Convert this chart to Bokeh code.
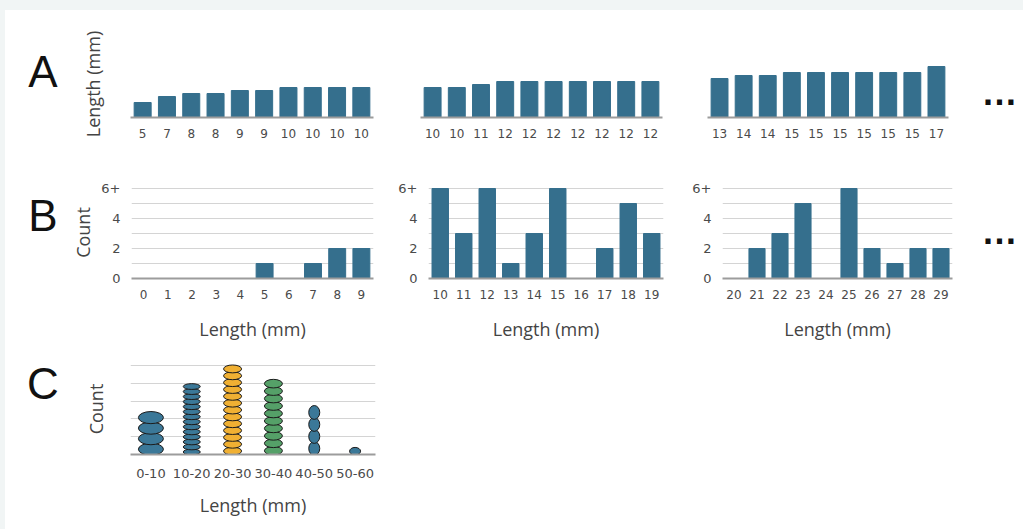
from bokeh.plotting import figure
from bokeh.layouts import row, column
from bokeh.models import FixedTicker, Range1d, FactorRange, ColumnDataSource, Spacer
from bokeh.core.properties import value
from bokeh.embed import file_html
from bokeh.resources import INLINE

# ---------------- data ----------------
a_lengths_1 = [5, 7, 8, 8, 9, 9, 10, 10, 10, 10]
a_lengths_2 = [10, 10, 11, 12, 12, 12, 12, 12, 12, 12]
a_lengths_3 = [13, 14, 14, 15, 15, 15, 15, 15, 15, 17]

b_lengths_1 = [0, 1, 2, 3, 4, 5, 6, 7, 8, 9]
b_lengths_2 = [10, 11, 12, 13, 14, 15, 16, 17, 18, 19]
b_lengths_3 = [20, 21, 22, 23, 24, 25, 26, 27, 28, 29]
b_counts_1 = [0, 0, 0, 0, 0, 1, 0, 1, 2, 2]
b_counts_2 = [6, 3, 6, 1, 3, 6, 0, 2, 5, 3]
b_counts_3 = [0, 2, 3, 5, 0, 6, 2, 1, 2, 2]
b_yticks = [0, 2, 4, 6]
b_ytick_labels = ["0", "2", "4", "6+"]

c_bins = ["0-10", "10-20", "20-30", "30-40", "40-50", "50-60"]
c_dots = [4, 14, 13, 10, 4, 1]                # number of stacked ovals
c_heights = [2.37, 3.96, 5.0, 4.19, 2.7, 0.37]  # height of each stack (grid units)

# ---------------- styles ----------------
BAR = "#356f8d"
BLUE = "#3b7898"
ORANGE = "#f0b033"
GREEN = "#55a068"
c_colors = [BLUE, BLUE, ORANGE, GREEN, BLUE, BLUE]
c_widths = [25, 17, 18, 18, 11, 11]
GRID = "#d4d4d4"
BASE = "#9c9c9c"
PAGE_BG = "#f1f5f5"
LAB_FONT = "Open Sans"


def base_fig(w, h, xr, yr, bl, br, bt, bb, **kw):
    p = figure(width=w, height=h, x_range=xr, y_range=yr, output_backend="svg",
               toolbar_location=None, min_border_left=bl, min_border_right=br,
               min_border_top=bt, min_border_bottom=bb, **kw)
    p.outline_line_color = None
    p.background_fill_color = "white"
    p.border_fill_color = "white"
    return p


def style_xaxis(p, size="12px"):
    ax = p.xaxis
    ax.axis_line_color = BASE
    ax.axis_line_width = 2
    ax.major_tick_line_color = None
    ax.minor_tick_line_color = None
    ax.major_tick_out = 0
    ax.major_tick_in = 0
    ax.major_label_text_font = "DejaVu Sans"
    ax.major_label_text_font_size = size
    ax.major_label_text_color = "#4a4a4a"
    ax.axis_label_text_font = LAB_FONT
    ax.axis_label_text_font_size = "18px"
    ax.axis_label_text_font_style = "normal"
    ax.axis_label_text_color = "#444444"


def style_yaxis(p):
    ax = p.yaxis
    ax.axis_line_color = None
    ax.major_tick_line_color = None
    ax.minor_tick_line_color = None
    ax.major_tick_out = 0
    ax.major_tick_in = 0
    ax.major_label_text_font = "DejaVu Sans"
    ax.major_label_text_font_size = "13px"
    ax.major_label_text_color = "#4a4a4a"
    ax.axis_label_text_font = LAB_FONT
    ax.axis_label_text_font_size = "18px"
    ax.axis_label_text_font_style = "normal"
    ax.axis_label_text_color = "#444444"


LW = 63  # width of the panel-letter column


def letter_fig(h, letter, cy):
    p = base_fig(LW, h, Range1d(0, LW), Range1d(0, h), 0, 0, 0, 0,
                 x_axis_type=None, y_axis_type=None)
    p.grid.visible = False
    p.text(x=[37.5], y=[h - cy], text=[letter], text_font=value("Liberation Sans"),
           text_font_size="44px", text_align="center", text_baseline="middle",
           text_color="#111111")
    return p


DW = 48  # width of the ellipsis column


def dots_fig(h, cy):
    p = base_fig(DW, h, Range1d(0, DW), Range1d(0, h), 0, 0, 0, 0,
                 x_axis_type=None, y_axis_type=None)
    p.grid.visible = False
    p.text(x=[24], y=[h - cy - 3], text=["\u2026"], text_font=value("Liberation Sans"),
           text_font_size="36px", text_font_style="bold", text_align="center",
           text_baseline="alphabetic", text_color="#111111")
    return p


# ---------------- row A ----------------
HA = 140
a_data = [a_lengths_1, a_lengths_2, a_lengths_3]
a_geom = [(62, 243, 20), (27, 242, 27), (18, 241, 27)]
rowA = [letter_fig(HA, "A", 44)]
for k, (vals, (bl, fw, br)) in enumerate(zip(a_data, a_geom)):
    idx = list(range(len(vals)))
    p = base_fig(bl + fw + br, HA, Range1d(-0.5, 9.5), Range1d(0, 67 / 3.0), bl, br, 40, 33)
    p.grid.visible = False
    p.vbar(x=idx, top=vals, width=0.7, color=BAR)
    style_xaxis(p)
    p.xaxis.ticker = FixedTicker(ticks=idx)
    p.xaxis.major_label_overrides = {i: str(v) for i, v in zip(idx, vals)}
    p.xaxis.major_label_standoff = 11
    if k == 0:
        style_yaxis(p)
        p.yaxis.ticker = FixedTicker(ticks=[])
        p.yaxis.axis_label = "Length (mm)"
        p.yaxis.major_label_standoff = 0
        p.yaxis.axis_label_standoff = 26
    else:
        p.yaxis.visible = False
    rowA.append(p)
rowA.append(dots_fig(HA, 84))

# ---------------- row B ----------------
HB = 195
b_x = [b_lengths_1, b_lengths_2, b_lengths_3]
b_y = [b_counts_1, b_counts_2, b_counts_3]
b_geom = [(62, 243, 20), (35, 235, 26), (26, 237, 23)]
rowB = [letter_fig(HB, "B", 62.5)]
for k, (xs, ys, (bl, fw, br)) in enumerate(zip(b_x, b_y, b_geom)):
    p = base_fig(bl + fw + br, HB, Range1d(xs[0] - 0.5, xs[-1] + 0.5), Range1d(0, 92 / 15.0),
                 bl, br, 36, 67)
    p.xgrid.visible = False
    p.ygrid.ticker = FixedTicker(ticks=[1, 2, 3, 4, 5, 6])
    p.ygrid.grid_line_color = GRID
    p.ygrid.grid_line_width = 1.2
    p.vbar(x=xs, top=ys, width=0.7, color=BAR)
    style_xaxis(p)
    p.xaxis.ticker = FixedTicker(ticks=xs)
    p.xaxis.major_label_standoff = 11
    p.xaxis.axis_label = "Length (mm)"
    p.xaxis.axis_label_standoff = 15
    style_yaxis(p)
    p.yaxis.ticker = FixedTicker(ticks=b_yticks)
    p.yaxis.major_label_overrides = {t: s for t, s in zip(b_yticks, b_ytick_labels)}
    p.yaxis.major_label_standoff = 11
    if k == 0:
        p.yaxis.axis_label = "Count"
        p.yaxis.axis_label_standoff = 3
    rowB.append(p)
rowB.append(dots_fig(HB, 93))

# ---------------- row C ----------------
HC = 184
xs, ys, ws, hs, cols = [], [], [], [], []
for b, n, H, col, w in zip(c_bins, c_dots, c_heights, c_colors, c_widths):
    step = H / n
    for i in range(n):
        xs.append(b)
        ys.append((i + 0.5) * step)
        hs.append(step * 1.15)
        ws.append(w)
        cols.append(col)
src = ColumnDataSource(dict(x=xs, y=ys, w=ws, h=hs, c=cols))
pc = base_fig(62 + 245 + 25, HC, FactorRange(*c_bins, range_padding=0), Range1d(0, 91 / 17.8),
              62, 25, 18, HC - 18 - 91)
pc.xgrid.visible = False
pc.ygrid.ticker = FixedTicker(ticks=[1, 2, 3, 4, 5])
pc.ygrid.grid_line_color = GRID
pc.ygrid.grid_line_width = 1.2
pc.ellipse(x="x", y="y", width="w", height="h", width_units="screen", source=src,
           fill_color="c", line_color="#1c1c1c", line_width=1)
style_xaxis(pc, size="13px")
pc.xaxis.major_label_standoff = 14
pc.xaxis.axis_label = "Length (mm)"
pc.xaxis.axis_label_standoff = 12
style_yaxis(pc)
pc.yaxis.ticker = FixedTicker(ticks=[])
pc.yaxis.axis_label = "Count"
pc.yaxis.major_label_standoff = 0
pc.yaxis.axis_label_standoff = 23
rowC = [letter_fig(HC, "C", 41), pc]

inner = column(row(*rowA), row(*rowB), row(*rowC))
top_band = Spacer(width=1023, height=10, styles={"background-color": PAGE_BG})
left_band = Spacer(width=5, height=HA + HB + HC, styles={"background-color": PAGE_BG})
layout = column(top_band, row(left_band, inner))
open("out.html", "w").write(file_html(layout, INLINE))
